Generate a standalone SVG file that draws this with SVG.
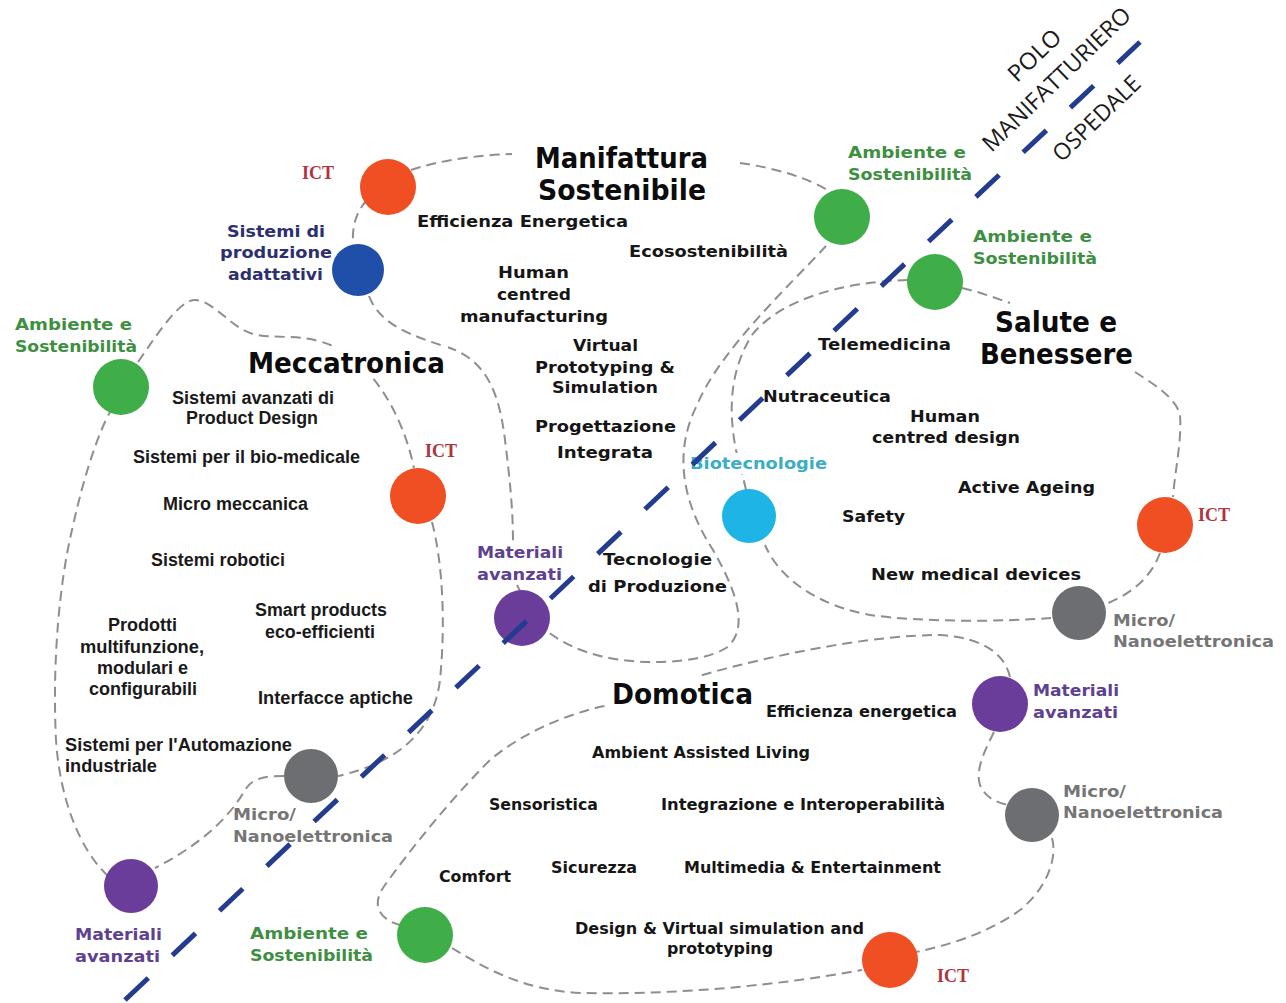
<svg xmlns="http://www.w3.org/2000/svg" width="1286" height="1003" viewBox="0 0 1286 1003">
  <style>
    .link { fill: none; stroke: #8e8e8e; stroke-width: 2; stroke-dasharray: 10 6; }
    .divider { fill: none; stroke: #243c8f; stroke-width: 5; stroke-dasharray: 32 33; }
    .t { font-family: "DejaVu Sans", Verdana, sans-serif; font-weight: bold; font-size: 16px; fill: #161616; }
    .a { font-family: "Liberation Sans", Arial, sans-serif; font-weight: bold; font-size: 18px; fill: #1a1a1a; }
    .h { font-family: "DejaVu Sans", Verdana, sans-serif; font-weight: bold; font-size: 28px; fill: #0c0c0c; }
    .ict { font-family: "Liberation Serif", "Times New Roman", serif; font-weight: bold; font-size: 18px; fill: #b2323e; }
    .grn { fill: #3f8f43; }
    .nav { fill: #2d2f70; }
    .pur { fill: #5e4190; }
    .gry { fill: #767676; }
    .cyn { fill: #3badc6; }
    .r { font-family: "Open Sans", "Liberation Sans", sans-serif; font-size: 23px; fill: #1a1a1a; text-anchor: middle; }
    .bg { fill: #ffffff; }
    .c-red { fill: #f04e23; }
    .c-blue { fill: #1f4fa8; }
    .c-green { fill: #3fae49; }
    .c-purple { fill: #6a3d9a; }
    .c-cyan { fill: #1fb4e6; }
    .c-grey { fill: #6d6e71; }
  </style>

  <rect width="1286" height="1003" fill="#ffffff"/>

  <!-- dashed cluster outlines -->
  <g id="connectors">
    <!-- Manifattura Sostenibile -->
    <path class="link" d="M 411,170 C 440,160 480,155 512,154"/>
    <path class="link" d="M 740,163 C 775,168 810,178 832,193"/>
    <path class="link" d="M 826,246 C 790,285 720,350 697,405 C 672,455 684,505 713,550 C 733,585 752,628 726,648 C 700,664 640,666 600,656 C 580,651 563,643 548,632"/>
    <path class="link" d="M 369,296 C 380,325 412,336 450,348 C 490,362 500,400 505,440 C 510,480 513,510 513,543"/>
    <path class="link" d="M 367,200 C 356,212 352,226 353,244"/>
    <path class="link" d="M 517,585 L 520,591"/>
    <!-- Meccatronica -->
    <path class="link" d="M 138,362 C 160,330 180,300 195,300 C 212,300 230,326 250,333 C 275,341 300,331 335,347 C 372,365 402,412 414,468"/>
    <path class="link" d="M 432,522 C 442,560 446,620 440,680 C 434,730 400,762 338,776"/>
    <path class="link" d="M 284,776 C 265,776 252,778 245,790 C 225,825 190,850 155,868"/>
    <path class="link" d="M 108,876 C 80,850 60,800 56,740 C 52,660 60,580 72,530 C 85,470 100,430 110,412"/>
    <!-- Salute e Benessere -->
    <path class="link" d="M 962,288 C 980,292 995,298 1010,303"/>
    <path class="link" d="M 1135,372 C 1155,385 1176,398 1180,415 C 1182,440 1175,470 1173,497"/>
    <path class="link" d="M 1160,553 C 1152,575 1135,592 1106,604"/>
    <path class="link" d="M 1051,618 C 1000,622 920,622 870,615 C 820,606 780,580 765,545"/>
    <path class="link" d="M 746,490 C 744,480 740,468 736,450 C 728,410 730,370 752,335 C 780,300 840,282 908,280"/>
    <!-- Domotica -->
    <path class="link" d="M 1010,677 C 1005,655 985,638 940,635 C 880,635 800,650 740,665 C 690,677 640,695 604,706 C 560,716 520,735 490,760 C 450,800 410,850 385,885 C 370,905 380,920 400,925"/>
    <path class="link" d="M 452,948 C 480,965 520,990 580,993 C 680,995 780,985 862,970"/>
    <path class="link" d="M 1052,838 C 1058,860 1045,890 1020,910 C 990,932 950,945 916,952"/>
    <path class="link" d="M 994,732 C 985,750 975,770 980,785 C 985,797 995,802 1008,805"/>
  </g>

  <!-- cluster titles -->
  <g id="cluster-manifattura">
    <text class="h" x="535" y="168" textLength="173" lengthAdjust="spacingAndGlyphs">Manifattura</text>
    <text class="h" x="538" y="200" textLength="168" lengthAdjust="spacingAndGlyphs">Sostenibile</text>
    <text class="t" x="417" y="227" textLength="211" lengthAdjust="spacingAndGlyphs">Efficienza Energetica</text>
    <text class="t" x="629" y="257" textLength="159" lengthAdjust="spacingAndGlyphs">Ecosostenibilità</text>
    <text class="t" x="498" y="278" textLength="71" lengthAdjust="spacingAndGlyphs">Human</text>
    <text class="t" x="497" y="300" textLength="74" lengthAdjust="spacingAndGlyphs">centred</text>
    <text class="t" x="460" y="322" textLength="148" lengthAdjust="spacingAndGlyphs">manufacturing</text>
    <text class="t" x="573" y="351" textLength="65" lengthAdjust="spacingAndGlyphs">Virtual</text>
    <text class="t" x="535" y="373" textLength="140" lengthAdjust="spacingAndGlyphs">Prototyping &amp;</text>
    <text class="t" x="552" y="393" textLength="106" lengthAdjust="spacingAndGlyphs">Simulation</text>
    <text class="t" x="535" y="432" textLength="141" lengthAdjust="spacingAndGlyphs">Progettazione</text>
    <text class="t" x="557" y="458" textLength="96" lengthAdjust="spacingAndGlyphs">Integrata</text>
    <text class="t" x="603" y="565" textLength="109" lengthAdjust="spacingAndGlyphs">Tecnologie</text>
    <text class="t" x="588" y="592" textLength="139" lengthAdjust="spacingAndGlyphs">di Produzione</text>
  </g>

  <g id="cluster-meccatronica">
    <rect class="bg" x="244" y="346" width="204" height="32"/>
    <text class="h" x="248" y="373" textLength="197" lengthAdjust="spacingAndGlyphs">Meccatronica</text>
    <text class="a" x="172" y="404" textLength="162" lengthAdjust="spacingAndGlyphs">Sistemi avanzati di</text>
    <text class="a" x="186" y="424" textLength="132" lengthAdjust="spacingAndGlyphs">Product Design</text>
    <text class="a" x="133" y="463" textLength="227" lengthAdjust="spacingAndGlyphs">Sistemi per il bio-medicale</text>
    <text class="a" x="163" y="510" textLength="145" lengthAdjust="spacingAndGlyphs">Micro meccanica</text>
    <text class="a" x="151" y="566" textLength="134" lengthAdjust="spacingAndGlyphs">Sistemi robotici</text>
    <text class="a" x="108" y="631" textLength="69" lengthAdjust="spacingAndGlyphs">Prodotti</text>
    <text class="a" x="80" y="653" textLength="124" lengthAdjust="spacingAndGlyphs">multifunzione,</text>
    <text class="a" x="97" y="674" textLength="91" lengthAdjust="spacingAndGlyphs">modulari e</text>
    <text class="a" x="89" y="695" textLength="108" lengthAdjust="spacingAndGlyphs">configurabili</text>
    <text class="a" x="255" y="616" textLength="132" lengthAdjust="spacingAndGlyphs">Smart products</text>
    <text class="a" x="265" y="638" textLength="110" lengthAdjust="spacingAndGlyphs">eco-efficienti</text>
    <text class="a" x="258" y="704" textLength="155" lengthAdjust="spacingAndGlyphs">Interfacce aptiche</text>
    <text class="a" x="65" y="751" textLength="227" lengthAdjust="spacingAndGlyphs">Sistemi per l'Automazione</text>
    <text class="a" x="65" y="772" textLength="92" lengthAdjust="spacingAndGlyphs">industriale</text>
  </g>

  <g id="cluster-salute">
    <text class="h" x="995" y="332" textLength="122" lengthAdjust="spacingAndGlyphs">Salute e</text>
    <text class="h" x="980" y="364" textLength="153" lengthAdjust="spacingAndGlyphs">Benessere</text>
    <text class="t" x="818" y="350" textLength="133" lengthAdjust="spacingAndGlyphs">Telemedicina</text>
    <text class="t" x="763" y="402" textLength="128" lengthAdjust="spacingAndGlyphs">Nutraceutica</text>
    <text class="t" x="910" y="422" textLength="70" lengthAdjust="spacingAndGlyphs">Human</text>
    <text class="t" x="872" y="443" textLength="148" lengthAdjust="spacingAndGlyphs">centred design</text>
    <text class="t" x="958" y="493" textLength="137" lengthAdjust="spacingAndGlyphs">Active Ageing</text>
    <text class="t" x="842" y="522" textLength="63" lengthAdjust="spacingAndGlyphs">Safety</text>
    <text class="t" x="871" y="580" textLength="210" lengthAdjust="spacingAndGlyphs">New medical devices</text>
  </g>

  <g id="cluster-domotica">
    <rect class="bg" x="607" y="676" width="150" height="32"/>
    <text class="h" x="612" y="704" textLength="141" lengthAdjust="spacingAndGlyphs">Domotica</text>
    <text class="t" x="766" y="717" textLength="191" lengthAdjust="spacingAndGlyphs">Efficienza energetica</text>
    <text class="t" x="592" y="758" textLength="218" lengthAdjust="spacingAndGlyphs">Ambient Assisted Living</text>
    <text class="t" x="489" y="810" textLength="109" lengthAdjust="spacingAndGlyphs">Sensoristica</text>
    <text class="t" x="661" y="810" textLength="284" lengthAdjust="spacingAndGlyphs">Integrazione e Interoperabilità</text>
    <text class="t" x="551" y="873" textLength="86" lengthAdjust="spacingAndGlyphs">Sicurezza</text>
    <text class="t" x="684" y="873" textLength="257" lengthAdjust="spacingAndGlyphs">Multimedia &amp; Entertainment</text>
    <text class="t" x="439" y="882" textLength="72" lengthAdjust="spacingAndGlyphs">Comfort</text>
    <text class="t" x="575" y="934" textLength="289" lengthAdjust="spacingAndGlyphs">Design &amp; Virtual simulation and</text>
    <text class="t" x="667" y="954" textLength="106" lengthAdjust="spacingAndGlyphs">prototyping</text>
  </g>

  <!-- nodes -->
  <g id="node-ict-1">
    <circle class="c-red" cx="388" cy="187" r="28"/>
    <text class="ict" x="302" y="179" textLength="32" lengthAdjust="spacingAndGlyphs">ICT</text>
  </g>
  <g id="node-sistemi-produzione">
    <circle class="c-blue" cx="358" cy="270" r="26"/>
    <text class="t nav" x="227" y="237" textLength="98" lengthAdjust="spacingAndGlyphs">Sistemi di</text>
    <text class="t nav" x="220" y="258" textLength="112" lengthAdjust="spacingAndGlyphs">produzione</text>
    <text class="t nav" x="228" y="280" textLength="95" lengthAdjust="spacingAndGlyphs">adattativi</text>
  </g>
  <g id="node-ambiente-1">
    <circle class="c-green" cx="842" cy="217" r="28"/>
    <text class="t grn" x="848" y="158" textLength="118" lengthAdjust="spacingAndGlyphs">Ambiente  e</text>
    <text class="t grn" x="848" y="180" textLength="124" lengthAdjust="spacingAndGlyphs">Sostenibilità</text>
  </g>
  <g id="node-ambiente-2">
    <circle class="c-green" cx="935" cy="282" r="28"/>
    <text class="t grn" x="973" y="242" textLength="119" lengthAdjust="spacingAndGlyphs">Ambiente  e</text>
    <text class="t grn" x="973" y="264" textLength="124" lengthAdjust="spacingAndGlyphs">Sostenibilità</text>
  </g>
  <g id="node-ambiente-3">
    <circle class="c-green" cx="121" cy="387" r="28"/>
    <text class="t grn" x="15" y="330" textLength="117" lengthAdjust="spacingAndGlyphs">Ambiente  e</text>
    <text class="t grn" x="15" y="352" textLength="122" lengthAdjust="spacingAndGlyphs">Sostenibilità</text>
  </g>
  <g id="node-ict-2">
    <circle class="c-red" cx="418" cy="496" r="28"/>
    <text class="ict" x="425" y="457" textLength="32" lengthAdjust="spacingAndGlyphs">ICT</text>
  </g>
  <g id="node-materiali-1">
    <circle class="c-purple" cx="522" cy="618" r="28"/>
    <text class="t pur" x="477" y="558" textLength="86" lengthAdjust="spacingAndGlyphs">Materiali</text>
    <text class="t pur" x="477" y="580" textLength="85" lengthAdjust="spacingAndGlyphs">avanzati</text>
  </g>
  <g id="node-biotecnologie">
    <circle class="c-cyan" cx="749" cy="516" r="27"/>
    <rect class="bg" x="687" y="453" width="143" height="21"/>
    <text class="t cyn" x="690" y="469" textLength="137" lengthAdjust="spacingAndGlyphs">Biotecnologie</text>
  </g>
  <g id="node-ict-3">
    <circle class="c-red" cx="1165" cy="525" r="28"/>
    <text class="ict" x="1198" y="521" textLength="32" lengthAdjust="spacingAndGlyphs">ICT</text>
  </g>
  <g id="node-micro-1">
    <circle class="c-grey" cx="1079" cy="613" r="27"/>
    <text class="t gry" x="1113" y="626" textLength="62" lengthAdjust="spacingAndGlyphs">Micro/</text>
    <text class="t gry" x="1113" y="647" textLength="161" lengthAdjust="spacingAndGlyphs">Nanoelettronica</text>
  </g>
  <g id="node-materiali-2">
    <circle class="c-purple" cx="1000" cy="704" r="28"/>
    <text class="t pur" x="1033" y="696" textLength="86" lengthAdjust="spacingAndGlyphs">Materiali</text>
    <text class="t pur" x="1033" y="718" textLength="85" lengthAdjust="spacingAndGlyphs">avanzati</text>
  </g>
  <g id="node-micro-2">
    <circle class="c-grey" cx="1032" cy="815" r="27"/>
    <text class="t gry" x="1063" y="797" textLength="63" lengthAdjust="spacingAndGlyphs">Micro/</text>
    <text class="t gry" x="1063" y="818" textLength="160" lengthAdjust="spacingAndGlyphs">Nanoelettronica</text>
  </g>
  <g id="node-micro-3">
    <circle class="c-grey" cx="311" cy="776" r="27"/>
    <text class="t gry" x="233" y="820" textLength="63" lengthAdjust="spacingAndGlyphs">Micro/</text>
    <text class="t gry" x="233" y="842" textLength="160" lengthAdjust="spacingAndGlyphs">Nanoelettronica</text>
  </g>
  <g id="node-materiali-3">
    <circle class="c-purple" cx="131" cy="886" r="27"/>
    <text class="t pur" x="75" y="940" textLength="87" lengthAdjust="spacingAndGlyphs">Materiali</text>
    <text class="t pur" x="75" y="962" textLength="85" lengthAdjust="spacingAndGlyphs">avanzati</text>
  </g>
  <g id="node-ambiente-4">
    <circle class="c-green" cx="425" cy="935" r="28"/>
    <text class="t grn" x="250" y="939" textLength="118" lengthAdjust="spacingAndGlyphs">Ambiente  e</text>
    <text class="t grn" x="250" y="961" textLength="123" lengthAdjust="spacingAndGlyphs">Sostenibilità</text>
  </g>
  <g id="node-ict-4">
    <circle class="c-red" cx="890" cy="960" r="28"/>
    <text class="ict" x="937" y="982" textLength="32" lengthAdjust="spacingAndGlyphs">ICT</text>
  </g>

  <!-- boundary between the two sites -->
  <g id="divider">
    <line class="divider" x1="125" y1="1000" x2="1140" y2="42"/>
    <text class="r" transform="translate(1040,61) rotate(-44)" textLength="64" lengthAdjust="spacingAndGlyphs">POLO</text>
    <text class="r" transform="translate(1062,85) rotate(-44)" textLength="196" lengthAdjust="spacingAndGlyphs">MANIFATTURIERO</text>
    <text class="r" transform="translate(1102,124) rotate(-44)" textLength="112" lengthAdjust="spacingAndGlyphs">OSPEDALE</text>
  </g>
</svg>
